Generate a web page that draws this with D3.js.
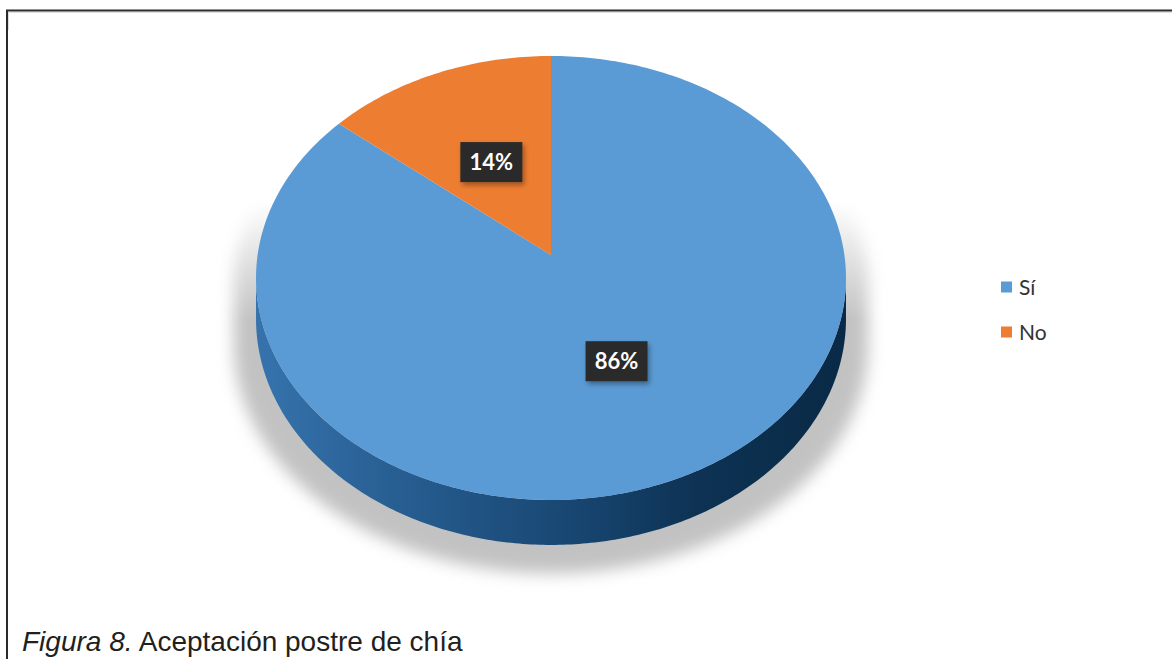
<!DOCTYPE html>
<html>
<head>
<meta charset="utf-8">
<script src="https://cdn.jsdelivr.net/npm/d3@7/dist/d3.min.js"></script>
<style>
  html, body { margin: 0; padding: 0; background: #ffffff; }
  svg { display: block; }
</style>
</head>
<body>
<svg id="chart" width="1172" height="659"></svg>
<script>
// Survey answers: acceptance of the chia dessert
const categories = ["Sí", "No"];
const values = [86, 14];
const valueLabels = ["86%", "14%"];

const W = 1172, H = 659;
const svg = d3.select("#chart");

const topColors = d3.scaleOrdinal().domain(categories).range(["#5b9bd5", "#ed7d31"]);

// 3D disk projection (perspective view from above)
const cx = 551, cy = 255;     // projected centre of the disk
const A = 219.6, B = 293.4;  // vertical / horizontal radii
const c = 0.1036;            // perspective strength
const depth = 40.3;          // disk thickness

function proj(X, Z, h) {
  const k = 1 / (1 - c * Z);
  return [cx + B * X * k, cy + A * Z * k + (h || 0) * k];
}
// angle a measured clockwise from 12 o'clock (d3.pie convention)
function projA(a, r, h) {
  return proj(Math.sin(a) * r, -Math.cos(a) * r, h);
}

const defs = svg.append("defs");

// soft shadow under the disk
const blur = defs.append("filter").attr("id", "shadowBlur")
  .attr("x", "-20%").attr("y", "-20%").attr("width", "140%").attr("height", "140%");
blur.append("feGaussianBlur").attr("stdDeviation", 8);

const shadowFade = defs.append("linearGradient").attr("id", "shadowFade")
  .attr("gradientUnits", "userSpaceOnUse")
  .attr("x1", 0).attr("y1", 200).attr("x2", 0).attr("y2", 320);
shadowFade.append("stop").attr("offset", 0).attr("stop-color", "#fff").attr("stop-opacity", 0);
shadowFade.append("stop").attr("offset", 1).attr("stop-color", "#fff").attr("stop-opacity", 1);
defs.append("mask").attr("id", "shadowMask")
  .append("rect").attr("x", 0).attr("y", 0).attr("width", W).attr("height", H)
  .attr("fill", "url(#shadowFade)");

// side wall shading
const sideGrad = defs.append("linearGradient").attr("id", "sideGrad")
  .attr("gradientUnits", "userSpaceOnUse")
  .attr("x1", 256).attr("y1", 0).attr("x2", 846).attr("y2", 0);
[[0, "#3673ad"], [0.3, "#24598b"], [0.55, "#174570"], [0.75, "#0d3253"], [1, "#092a46"]]
  .forEach(([o, col]) => sideGrad.append("stop").attr("offset", o).attr("stop-color", col));

// label box shadow
const lblShadow = defs.append("filter").attr("id", "lblShadow")
  .attr("x", "-30%").attr("y", "-30%").attr("width", "160%").attr("height", "160%");
lblShadow.append("feDropShadow").attr("dx", 2).attr("dy", 3)
  .attr("stdDeviation", 2.5).attr("flood-color", "#000").attr("flood-opacity", 0.35);

// frame
svg.append("line").attr("x1", 6).attr("x2", W).attr("y1", 10.5).attr("y2", 10.5)
  .attr("stroke", "#2b2b2b").attr("stroke-width", 2);
svg.append("line").attr("x1", 7).attr("x2", 7).attr("y1", 10).attr("y2", H)
  .attr("stroke", "#2b2b2b").attr("stroke-width", 2);
svg.append("line").attr("x1", 9).attr("x2", W).attr("y1", 12.5).attr("y2", 12.5)
  .attr("stroke", "#dddddd").attr("stroke-width", 1);
svg.append("line").attr("x1", 8.5).attr("x2", 8.5).attr("y1", 12).attr("y2", 30)
  .attr("stroke", "#dddddd").attr("stroke-width", 1);

const line = d3.line();
const N = 240;
const phiR = Math.asin(c), phiL = Math.PI - Math.asin(c);

// silhouette of the whole disk (top rim through the back, bottom rim through the front)
function silhouette(h) {
  const pts = [];
  for (let i = 0; i <= N; i++) {
    const p = phiR - (phiR + (2 * Math.PI - phiL)) * i / N; // back arc
    pts.push(proj(Math.cos(p), Math.sin(p), 0));
  }
  for (let i = 0; i <= N; i++) {
    const p = phiL - (phiL - phiR) * i / N; // front arc, bottom
    pts.push(proj(Math.cos(p), Math.sin(p), h));
  }
  return pts;
}

const sil = silhouette(depth + 22);
const shadowPts = sil.map(([x, y]) => [cx + (x - cx) * 1.075, y + 4]);
svg.append("g").attr("mask", "url(#shadowMask)")
  .append("path")
  .attr("d", line(shadowPts) + "Z")
  .attr("fill", "#c2c2c2")
  .attr("filter", "url(#shadowBlur)");

// front side wall
const side = [];
for (let i = 0; i <= N; i++) {
  const p = phiR + (phiL - phiR) * i / N;
  side.push(proj(Math.cos(p), Math.sin(p), 0));
}
for (let i = N; i >= 0; i--) {
  const p = phiR + (phiL - phiR) * i / N;
  side.push(proj(Math.cos(p), Math.sin(p), depth));
}
svg.append("path").attr("d", line(side) + "Z").attr("fill", "url(#sideGrad)");

// top face wedges
const pie = d3.pie().sort(null).value(d => d.value);
const data = categories.map((k, i) => ({ key: k, value: values[i], label: valueLabels[i] }));
const arcs = pie(data);

svg.append("g").selectAll("path")
  .data(arcs)
  .join("path")
  .attr("d", d => {
    const pts = [proj(0, 0, 0)];
    const n = Math.max(8, Math.ceil((d.endAngle - d.startAngle) / (2 * Math.PI) * 360));
    for (let i = 0; i <= n; i++) {
      const a = d.startAngle + (d.endAngle - d.startAngle) * i / n;
      pts.push(projA(a, 1, 0));
    }
    return line(pts) + "Z";
  })
  .attr("fill", d => topColors(d.data.key));

// value labels in dark boxes at half radius
const lbl = svg.append("g").selectAll("g")
  .data(arcs)
  .join("g")
  .attr("transform", d => {
    const [x, y] = projA((d.startAngle + d.endAngle) / 2, 0.5, 0);
    return `translate(${x},${y + 2})`;
  });
lbl.append("rect")
  .attr("x", -31).attr("y", -20).attr("width", 62).attr("height", 40)
  .attr("fill", "#2a2a2a")
  .attr("filter", "url(#lblShadow)");
lbl.append("text")
  .attr("text-anchor", "middle")
  .attr("dy", "0.36em")
  .attr("fill", "#ffffff")
  .attr("font-family", "Lato, 'Open Sans', sans-serif")
  .attr("font-weight", "bold")
  .attr("font-size", 22)
  .text(d => d.data.label);

// legend
const legend = svg.append("g").selectAll("g")
  .data(categories)
  .join("g")
  .attr("transform", (d, i) => `translate(1001,${287 + i * 45})`);
legend.append("rect")
  .attr("x", 0).attr("y", -5.5).attr("width", 11).attr("height", 11)
  .attr("fill", d => topColors(d));
legend.append("text")
  .attr("x", 18).attr("dy", "0.36em")
  .attr("fill", "#333333")
  .attr("font-family", "Lato, 'Open Sans', sans-serif")
  .attr("font-size", 21)
  .text(d => d);

// figure caption
const cap = svg.append("text")
  .attr("x", 22).attr("y", 651)
  .attr("fill", "#231f20")
  .attr("font-family", "'Liberation Sans', Arial, sans-serif")
  .attr("font-size", 28);
cap.append("tspan").attr("font-style", "italic").text("Figura 8.");
cap.append("tspan").text(" Aceptación postre de chía");
</script>
</body>
</html>
